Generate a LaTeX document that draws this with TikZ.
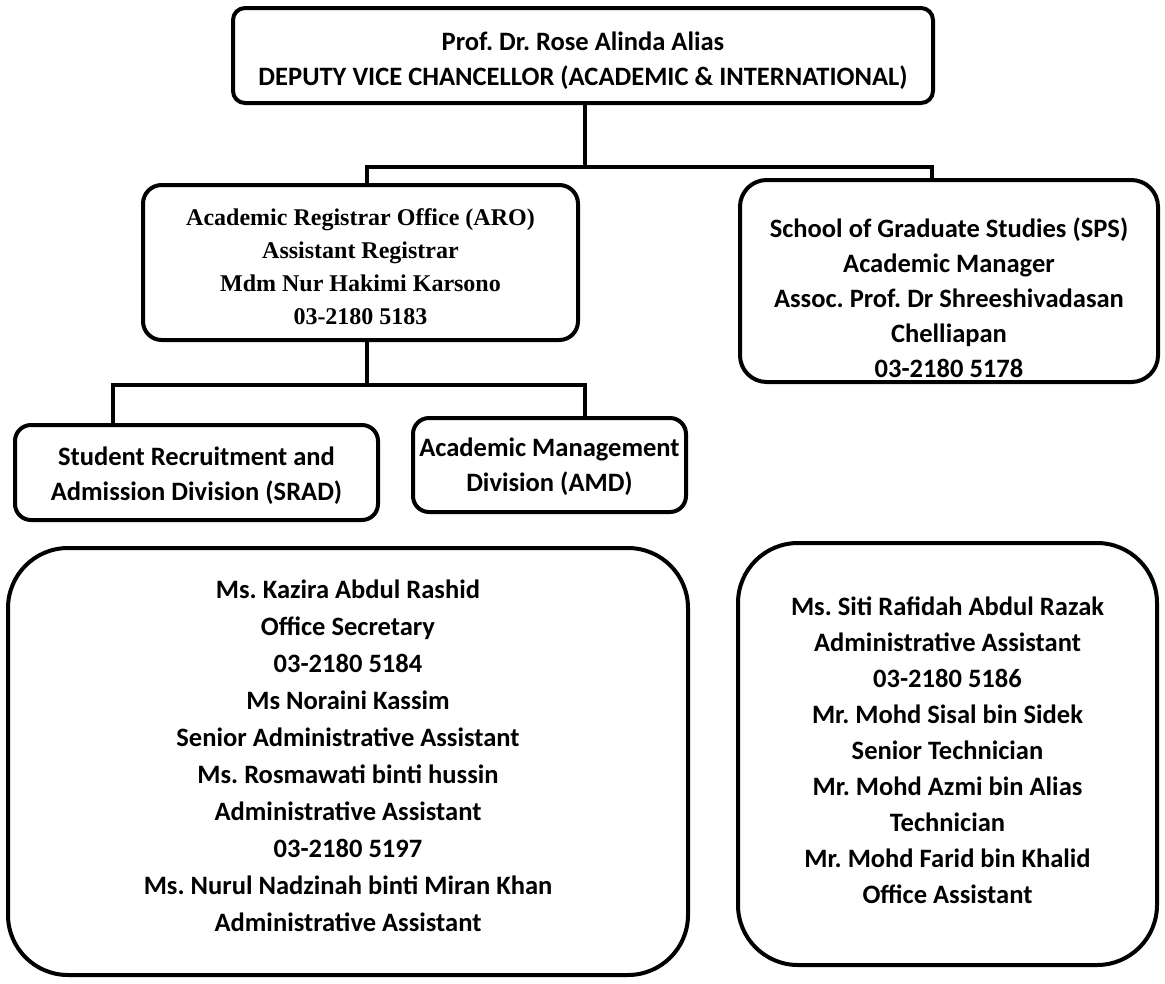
\documentclass[tikz,border=0pt]{standalone}
\usepackage{fontspec}
\setmainfont{Carlito}
\newfontfamily\tms{Liberation Serif}
\usetikzlibrary{calc}
\frenchspacing
\tikzset{
  box/.style={draw=black, line width=3pt, fill=white, rectangle, inner sep=0pt},
  conn/.style={draw=black, line width=3pt},
  txt/.style={align=center, inner sep=0pt, font=\frenchspacing\bfseries\fontsize{19.9}{26.25}\selectfont},
  ttxt/.style={align=center, inner sep=0pt, font=\frenchspacing\tms\bfseries\fontsize{18}{24.75}\selectfont}
}
\begin{document}
\begin{tikzpicture}[x=0.75pt, y=-0.75pt]
\useasboundingbox (0,0) rectangle (1165,983);
% boxes
\node[box, rounded corners=9pt, minimum width=525pt, minimum height=71.25pt] (top) at (583,55.5) {};
\node[box, rounded corners=14pt, minimum width=326.25pt, minimum height=116.25pt] (aro) at (360.5,262.5) {};
\node[box, rounded corners=20pt, minimum width=313.5pt, minimum height=151.5pt] (sps) at (949,281) {};
\node[box, rounded corners=12pt, minimum width=272.25pt, minimum height=71.25pt] (srad) at (196.5,472.5) {};
\node[box, rounded corners=12pt, minimum width=204.75pt, minimum height=70.5pt] (amd) at (549.5,465) {};
\node[box, rounded corners=45pt, minimum width=510pt, minimum height=320.25pt] (left) at (348,761.5) {};
\node[box, rounded corners=45pt, minimum width=314.25pt, minimum height=316.5pt] (right) at (947.5,754) {};
% texts
\node[txt] (toptxt) at (583,60.5) {Prof. Dr. Rose Alinda Alias\\DEPUTY VICE CHANCELLOR (ACADEMIC \& INTERNATIONAL)};
\node[ttxt] (arotxt) at (360.5,266.5) {Academic Registrar Office (ARO)\\Assistant Registrar\\Mdm Nur Hakimi Karsono\\03-2180 5183};
\node[txt] (spstxt) at (949,297.5) {School of Graduate Studies (SPS)\\Academic Manager\\Assoc. Prof. Dr Shreeshivadasan\\Chelliapan\\03-2180 5178};
\node[txt] (sradtxt) at (196.5,475.5) {Student Recruitment and\\Admission Division (SRAD)};
\node[txt] (amdtxt) at (549.5,467) {Academic Management\\Division (AMD)};
\node[txt, font=\frenchspacing\bfseries\fontsize{19.9}{27.75}\selectfont] (lefttxt) at (348,755.5) {Ms. Kazira Abdul Rashid\\Office Secretary\\03-2180 5184\\Ms Noraini Kassim\\Senior Administrative Assistant\\Ms. Rosmawati binti hussin\\Administrative Assistant\\03-2180 5197\\Ms. Nurul Nadzinah binti Miran Khan\\Administrative Assistant};
\node[txt, font=\frenchspacing\bfseries\fontsize{19.9}{27}\selectfont] (righttxt) at (947.5,750) {Ms. Siti Rafidah Abdul Razak\\Administrative Assistant\\03-2180 5186\\Mr. Mohd Sisal bin Sidek\\Senior Technician\\Mr. Mohd Azmi bin Alias\\Technician\\Mr. Mohd Farid bin Khalid\\Office Assistant};
% connectors
\draw[conn] ($(top.south)+(2,0)$) -- ++(0,62) coordinate (j1);
\draw[conn, line cap=rect] ($(aro.north)+(6.5,0)$) |- (j1) -| ($(sps.north)+(-17,0)$);
\draw[conn] ($(aro.south)+(6.5,0)$) -- ++(0,43) coordinate (j2);
\draw[conn, line cap=rect] ($(srad.north west)+(100,0)$) |- (j2) -| ($(amd.north)+(35.5,0)$);
\end{tikzpicture}
\end{document}
